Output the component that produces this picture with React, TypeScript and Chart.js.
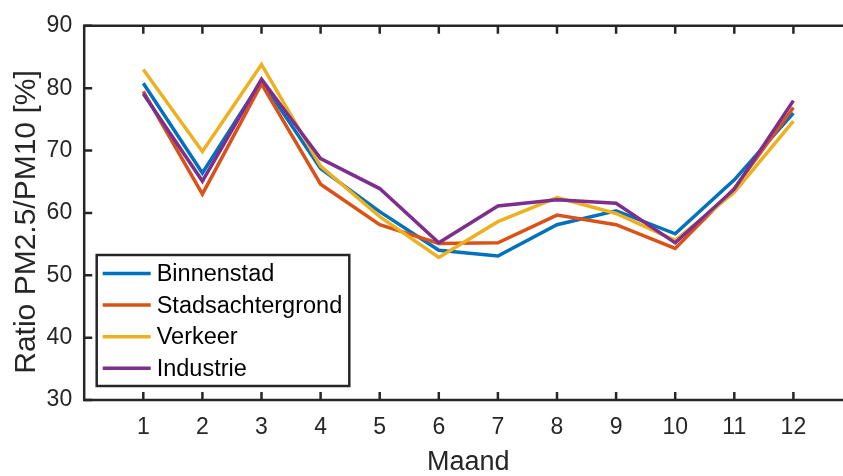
import React, { useEffect, useRef } from "react";
import { Chart, registerables } from "chart.js";

Chart.register(...registerables);

const months = [1, 2, 3, 4, 5, 6, 7, 8, 9, 10, 11, 12];
const binnenstad = [80.8, 66.4, 81.2, 67.1, 60.2, 54.0, 53.1, 58.1, 60.35, 56.65, 65.3, 76.0];
const stadsachtergrond = [79.5, 63.0, 80.7, 64.6, 58.1, 55.1, 55.2, 59.65, 58.1, 54.3, 63.9, 76.9];
const verkeer = [83.0, 69.85, 83.8, 67.5, 59.4, 52.85, 58.6, 62.45, 59.9, 55.6, 63.3, 74.7];
const industrie = [79.1, 65.1, 81.45, 68.7, 63.9, 55.2, 61.1, 62.1, 61.55, 55.2, 63.8, 78.0];
const seriesNames = ["Binnenstad", "Stadsachtergrond", "Verkeer", "Industrie"];
const seriesColors = ["#0072BD", "#D95319", "#EDB120", "#7E2F8E"];
const xTicks = months;
const yTicks = [30, 40, 50, 60, 70, 80, 90];
const xTitle = "Maand";
const yTitle = "Ratio PM2.5/PM10 [%]";

const AXIS = "#262626";
const FONT = "'Liberation Sans', Arial, Helvetica, sans-serif";

const framePlugin = {
  id: "matlabFrame",
  beforeDatasetsDraw(chart: any) {
    const { ctx, chartArea, scales } = chart;
    const { left, top, right, bottom } = chartArea;
    ctx.save();
    ctx.strokeStyle = AXIS;
    ctx.lineWidth = 2.5;
    ctx.beginPath();
    ctx.moveTo(right, top);
    ctx.lineTo(left, top);
    ctx.lineTo(left, bottom);
    ctx.lineTo(right, bottom);
    ctx.stroke();
    ctx.beginPath();
    for (const v of xTicks) {
      const px = scales.x.getPixelForValue(v);
      ctx.moveTo(px, bottom);
      ctx.lineTo(px, bottom - 8);
      ctx.moveTo(px, top);
      ctx.lineTo(px, top + 8);
    }
    for (const v of yTicks) {
      const py = scales.y.getPixelForValue(v);
      ctx.moveTo(left, py);
      ctx.lineTo(left + 8, py);
      ctx.moveTo(right, py);
      ctx.lineTo(right - 8, py);
    }
    ctx.stroke();
    ctx.restore();
  },
  afterDraw(chart: any) {
    const { ctx, chartArea } = chart;
    const { left, right } = chartArea;
    ctx.save();
    // legend box
    const bx = left + 12.5;
    const by = 255;
    const bw = 252.6;
    const bh = 131;
    ctx.fillStyle = "#ffffff";
    ctx.fillRect(bx, by, bw, bh);
    ctx.strokeStyle = AXIS;
    ctx.lineWidth = 2.5;
    ctx.strokeRect(bx, by, bw, bh);
    ctx.font = `23.5px ${FONT}`;
    ctx.textBaseline = "middle";
    ctx.textAlign = "left";
    seriesNames.forEach((name, i) => {
      const cy = by + 18.5 + i * 31.6;
      ctx.strokeStyle = seriesColors[i];
      ctx.lineWidth = 3.5;
      ctx.beginPath();
      ctx.moveTo(bx + 6, cy);
      ctx.lineTo(bx + 54, cy);
      ctx.stroke();
      ctx.fillStyle = "#000000";
      ctx.fillText(name, bx + 60, cy + 1);
    });
    // axis titles
    ctx.fillStyle = AXIS;
    ctx.textAlign = "center";
    ctx.textBaseline = "middle";
    ctx.font = `27px ${FONT}`;
    ctx.fillText(xTitle, (left + right) / 2, 463);
    ctx.translate(27, 222);
    ctx.rotate(-Math.PI / 2);
    ctx.font = `30px ${FONT}`;
    ctx.fillText(yTitle, 0, 0);
    ctx.restore();
  },
};

export default function App() {
  const ref = useRef<HTMLCanvasElement | null>(null);
  useEffect(() => {
    if (!ref.current) return;
    const series = [binnenstad, stadsachtergrond, verkeer, industrie];
    const chart = new Chart(ref.current, {
      type: "line",
      data: {
        datasets: series.map((vals, i) => ({
          label: seriesNames[i],
          data: months.map((m, j) => ({ x: m, y: vals[j] })),
          borderColor: seriesColors[i],
          backgroundColor: seriesColors[i],
          borderWidth: 3.5,
          pointRadius: 0,
          tension: 0,
          fill: false,
          order: 3 - i,
        })),
      },
      options: {
        animation: false,
        responsive: false,
        devicePixelRatio: 1,
        layout: { padding: { left: 0, top: 21.5, right: 870 - 852.5, bottom: 0 } },
        plugins: { legend: { display: false }, tooltip: { enabled: false } },
        scales: {
          x: {
            type: "linear",
            min: 0,
            max: 13,
            grid: { display: false, drawTicks: false },
            border: { display: false },
            afterBuildTicks: (s: any) => {
              s.ticks = xTicks.map((v) => ({ value: v }));
            },
            afterFit: (s: any) => {
              s.height = 76;
            },
            ticks: {
              autoSkip: false,
              maxRotation: 0,
              padding: 14,
              color: AXIS,
              font: { family: FONT, size: 23 },
              callback: (v: any) => String(v),
            },
          },
          y: {
            type: "linear",
            min: 30,
            max: 90,
            grid: { display: false, drawTicks: false },
            border: { display: false },
            afterBuildTicks: (s: any) => {
              s.ticks = yTicks.map((v) => ({ value: v }));
            },
            afterFit: (s: any) => {
              s.width = 84.2;
            },
            ticks: {
              padding: 12,
              color: AXIS,
              font: { family: FONT, size: 23 },
              callback: (v: any) => String(v),
            },
          },
        },
      },
      plugins: [framePlugin],
    });
    return () => chart.destroy();
  }, []);
  return (
    <div
      style={{
        position: "fixed",
        left: 0,
        top: 0,
        width: 843,
        height: 476,
        overflow: "hidden",
        background: "#ffffff",
      }}
    >
      <canvas ref={ref} width={870} height={476} style={{ display: "block", width: 870, height: 476 }} />
    </div>
  );
}
